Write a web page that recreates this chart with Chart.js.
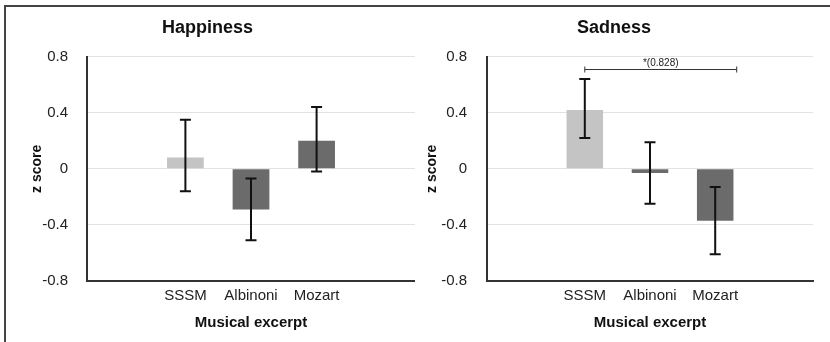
<!DOCTYPE html>
<html>
<head>
<meta charset="utf-8">
<script src="https://cdn.jsdelivr.net/npm/chart.js@4.4.1/dist/chart.umd.min.js"></script>
<style>
    html, body { margin: 0; padding: 0; background: #fff; }
    #wrap { position: relative; width: 830px; height: 342px; overflow: hidden; }
    #frame { position: absolute; left: 4px; top: 5px; width: 830px; height: 340px;
             border-top: 2px solid #444; border-left: 2px solid #444; }
    canvas { position: absolute; top: 0; }
</style>
</head>
<body>
<div id="wrap">
    <div id="frame"></div>
    <canvas id="happy" width="415" height="342" style="left:0px"></canvas>
    <canvas id="sad" width="415" height="342" style="left:415px"></canvas>
</div>
<script>
// Categories (blank slots left and right keep the bars centred like the original)
const categories = ['', 'SSSM', 'Albinoni', 'Mozart', ''];
const barColors = ['#c4c4c4', '#6b6b6b', '#6b6b6b'];

// Happiness panel
const happyMeans = [0.08, -0.29, 0.20];
const happyErrLow = [-0.16, -0.51, -0.02];
const happyErrHigh = [0.35, -0.07, 0.44];

// Sadness panel
const sadMeans = [0.42, -0.03, -0.37];
const sadErrLow = [0.22, -0.25, -0.61];
const sadErrHigh = [0.64, 0.19, -0.13];

// Significance bracket on the sadness panel (category index units / z score)
const sadBracketSpan = [1, 3.33];
const sadBracketLevel = 0.715;
const sadBracketText = '*(0.828)';

// Y axis ticks
const yTicks = [-0.8, -0.4, 0, 0.4, 0.8];
const yTickLabels = ['-0.8', '-0.4', '0', '0.4', '0.8'];

const FONT = "'Liberation Sans', Arial, Helvetica, sans-serif";
const pad = arr => [null, ...arr, null];

// error bars drawn through the value scale
const errorBarPlugin = {
    id: 'errorBars',
    afterDatasetsDraw(chart, args, opts) {
        if (!opts || !opts.low) return;
        const ctx = chart.ctx;
        const y = chart.scales.y;
        const meta = chart.getDatasetMeta(0);
        ctx.save();
        ctx.strokeStyle = '#111';
        ctx.lineWidth = 2;
        opts.low.forEach((lo, i) => {
            const bar = meta.data[i + 1];
            const x = bar.x;
            const yLo = y.getPixelForValue(lo);
            const yHi = y.getPixelForValue(opts.high[i]);
            ctx.beginPath();
            ctx.moveTo(x, yLo); ctx.lineTo(x, yHi);
            ctx.moveTo(x - 5.5, yLo); ctx.lineTo(x + 5.5, yLo);
            ctx.moveTo(x - 5.5, yHi); ctx.lineTo(x + 5.5, yHi);
            ctx.stroke();
        });
        ctx.restore();
    }
};

const bracketPlugin = {
    id: 'sigBracket',
    afterDatasetsDraw(chart, args, opts) {
        if (!opts || !opts.span) return;
        const ctx = chart.ctx;
        const xs = chart.scales.x;
        const ys = chart.scales.y;
        const x1 = xs.getPixelForValue(opts.span[0]);
        const x2 = xs.getPixelForValue(opts.span[1]);
        const yy = Math.round(ys.getPixelForValue(opts.level)) + 0.5;
        ctx.save();
        ctx.strokeStyle = '#333';
        ctx.lineWidth = 1;
        ctx.beginPath();
        ctx.moveTo(x1, yy); ctx.lineTo(x2, yy);
        ctx.moveTo(x1, yy - 3); ctx.lineTo(x1, yy + 3);
        ctx.moveTo(x2, yy - 3); ctx.lineTo(x2, yy + 3);
        ctx.stroke();
        ctx.fillStyle = '#222';
        ctx.font = '10px ' + FONT;
        ctx.textAlign = 'center';
        ctx.textBaseline = 'bottom';
        ctx.fillText(opts.text, (x1 + x2) / 2, yy - 1);
        ctx.restore();
    }
};

function makePanel(canvasId, title, means, low, high, cfg) {
    return new Chart(document.getElementById(canvasId), {
        type: 'bar',
        data: {
            labels: categories,
            datasets: [{
                data: pad(means),
                backgroundColor: pad(barColors),
                borderWidth: 0,
                categoryPercentage: 1,
                barPercentage: 0.56
            }]
        },
        options: {
            responsive: false,
            animation: false,
            layout: { padding: { left: 0, right: cfg.padRight, top: 0, bottom: 0 } },
            plugins: {
                legend: { display: false },
                tooltip: { enabled: false },
                title: {
                    display: true,
                    text: title,
                    color: '#111',
                    font: { family: FONT, size: 18, weight: 'bold' },
                    padding: { top: 17, bottom: 18 }
                },
                errorBars: { low: low, high: high },
                sigBracket: cfg.bracket || {}
            },
            scales: {
                x: {
                    grid: { display: false, drawTicks: false },
                    border: { display: true, color: '#333', width: 2 },
                    ticks: { color: '#222', padding: 6, font: { family: FONT, size: 15 } },
                    title: {
                        display: true,
                        text: 'Musical excerpt',
                        color: '#111',
                        font: { family: FONT, size: 15, weight: 'bold' },
                        padding: { top: 0, bottom: 10 }
                    },
                    afterFit(scale) { scale.height = 61; }
                },
                y: {
                    min: -0.8,
                    max: 0.8,
                    afterBuildTicks(scale) { scale.ticks = yTicks.map(v => ({ value: v })); },
                    grid: { color: '#e2e2e2', lineWidth: 1, drawTicks: false },
                    border: { display: true, color: '#333', width: 2 },
                    ticks: {
                        color: '#222',
                        padding: cfg.tickPad,
                        font: { family: FONT, size: 15 },
                        callback: (v) => yTickLabels[yTicks.indexOf(v)]
                    },
                    title: {
                        display: true,
                        text: 'z score',
                        color: '#111',
                        font: { family: FONT, size: 14, weight: 'bold' },
                        padding: { top: cfg.titlePad, bottom: 0 }
                    },
                    afterFit(scale) { scale.width = cfg.axisWidth; }
                }
            }
        },
        plugins: [errorBarPlugin, bracketPlugin]
    });
}

makePanel('happy', 'Happiness', happyMeans, happyErrLow, happyErrHigh,
    { padRight: 0, axisWidth: 87, tickPad: 19, titlePad: 28.6 });
makePanel('sad', 'Sadness', sadMeans, sadErrLow, sadErrHigh,
    { padRight: 17, axisWidth: 72, tickPad: 20, titlePad: 8.6,
      bracket: { span: sadBracketSpan, level: sadBracketLevel, text: sadBracketText } });
</script>
</body>
</html>
